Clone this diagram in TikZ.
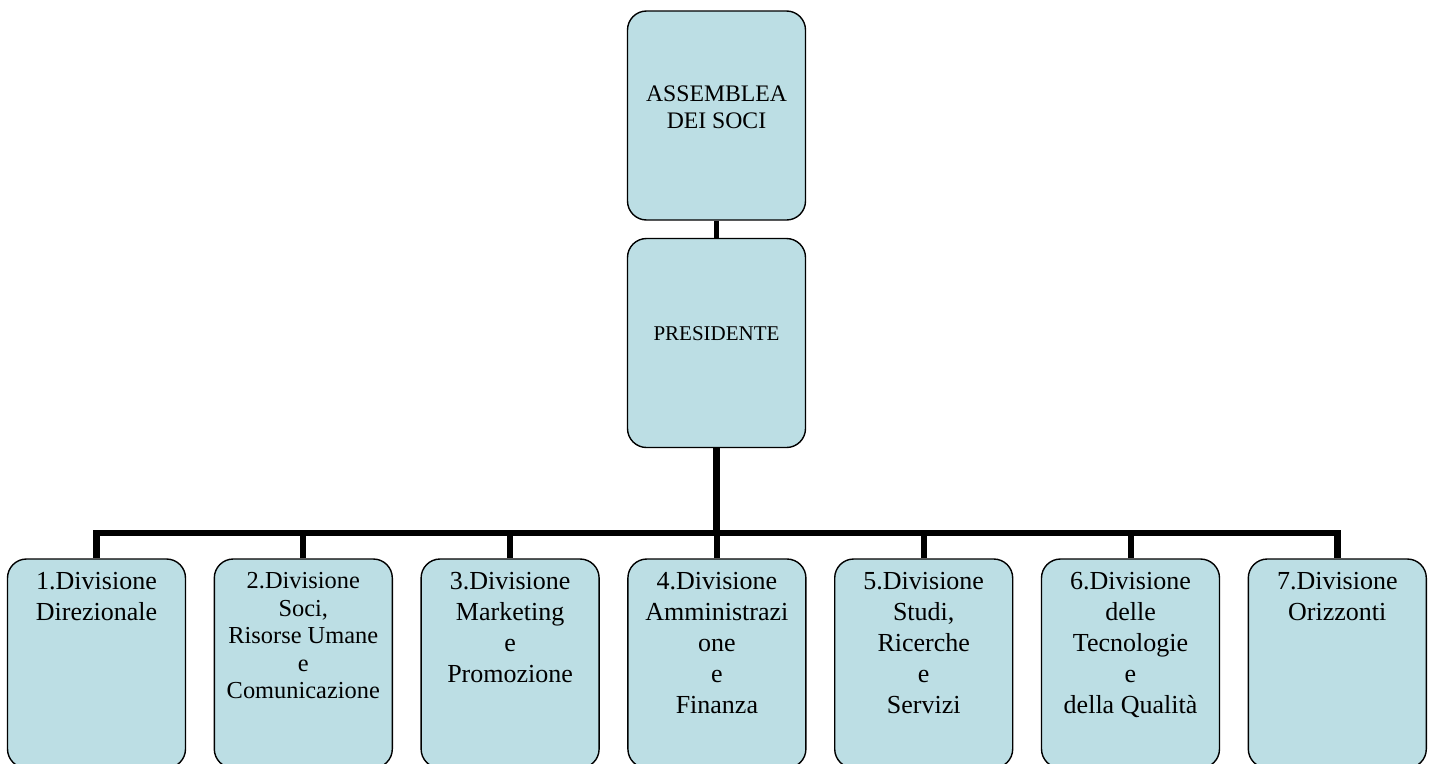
\documentclass[tikz,border=0pt]{standalone}
\usepackage{fontspec}
\setmainfont{Liberation Serif}
\usetikzlibrary{positioning}
\definecolor{boxblue}{RGB}{188,222,228}
\tikzstyle{unit}=[draw=black,line width=1.4pt,fill=boxblue,rounded corners=19pt,minimum width=178pt,minimum height=209pt,inner sep=0pt]
\tikzstyle{unittext}=[align=center,inner sep=0pt]
\tikzstyle{edge} = [draw,line width=6pt,-]
\newcommand{\fsz}[2]{\fontsize{#1}{#2}\selectfont}

\begin{document}
\begin{tikzpicture}[x=1pt,y=-1pt]
    \useasboundingbox (0,0) rectangle (1431,763);
    \clip (0,0) rectangle (1431,763);
    % First the two boxes on top
    \node[unit] (assemblea) at (716.5,115.5) {};
    \node[unit] (presidente) at (716.5,343) {};
    \node[unittext,font=\fsz{23.7}{26.7}] (assemblea-t) at (assemblea) [yshift=8.5pt] {ASSEMBLEA\\DEI SOCI};
    \node[unittext,font=\fsz{21}{25}] (presidente-t) at (presidente) [yshift=9pt] {PRESIDENTE};
    % Then the seven divisions
    \foreach \i/\name/\fs/\ls/\txt in {0/dir/26/31/{1.Divisione\\Direzionale},
        1/soci/24.4/27.5/{2.Divisione\\Soci,\\Risorse Umane\\e\\Comunicazione},
        2/mark/26/31/{3.Divisione\\Marketing\\e\\Promozione},
        3/amm/26/31/{4.Divisione\\Amministrazi\\one\\e\\Finanza},
        4/studi/26/31/{5.Divisione\\Studi,\\Ricerche\\e\\Servizi},
        5/tecn/26/31/{6.Divisione\\delle\\Tecnologie\\e\\della Qualità},
        6/oriz/26/31/{7.Divisione\\Orizzonti}}
    {
        \node[unit] (\name) at ({96.5+206.8*\i},663.5) {};
        \node[unittext,anchor=north,font=\fsz{\fs}{\ls}] (\name-t) at ([yshift=-14pt]\name.north) {\txt};
    }
    % Connect the boxes
    \coordinate (bar) at (716.5,533);
    \path[edge,line width=5pt] (assemblea) -- (presidente);
    \path[edge,line width=6.5pt] (presidente) -- (bar);
    \path[edge,line width=6.5pt] (dir) |- (bar) -| (oriz);
    \foreach \name in {soci,mark,amm,studi,tecn}
        \path[edge] (\name) -- (\name |- bar);
\end{tikzpicture}
\end{document}
